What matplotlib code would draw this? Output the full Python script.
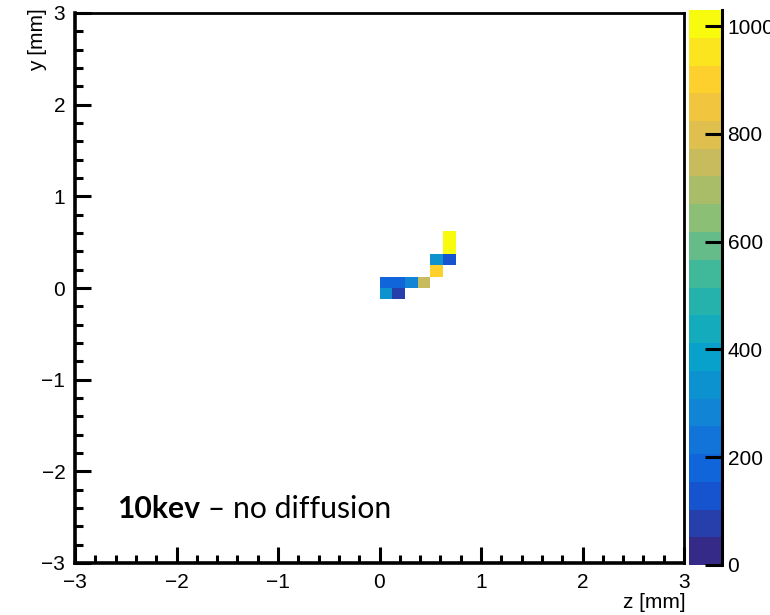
import numpy as np
import matplotlib
matplotlib.use("Agg")
import matplotlib.pyplot as plt
from matplotlib.colors import LinearSegmentedColormap, BoundaryNorm
from matplotlib.ticker import MultipleLocator

# ---- data (bin centres in mm, deposited charge) ----
z_centers = [0.0625, 0.1875, 0.0625, 0.1875, 0.3125, 0.4375, 0.5625, 0.5625, 0.6875, 0.6875, 0.6875]
y_centers = [-0.0625, -0.0625, 0.0625, 0.0625, 0.0625, 0.0625, 0.1875, 0.3125, 0.3125, 0.4375, 0.5625]
charge = [335, 75, 175, 185, 285, 760, 905, 330, 130, 1010, 1030]
x_ticks = [-3, -2, -1, 0, 1, 2, 3]
y_ticks = [-3, -2, -1, 0, 1, 2, 3]
cbar_ticks = [0, 200, 400, 600, 800, 1000]

plt.rcParams['font.family'] = ['Liberation Sans', 'DejaVu Sans']

# ROOT kBird palette
stops = [0.0, 0.125, 0.25, 0.375, 0.5, 0.625, 0.75, 0.875, 1.0]
red = [0.2082, 0.0592, 0.0780, 0.0232, 0.1802, 0.5301, 0.8186, 0.9956, 0.9764]
green = [0.1664, 0.3599, 0.5041, 0.6419, 0.7178, 0.7492, 0.7328, 0.7862, 0.9832]
blue = [0.5293, 0.8684, 0.8385, 0.7914, 0.6425, 0.4662, 0.3499, 0.1968, 0.0539]
cmap = LinearSegmentedColormap.from_list(
    'bird', [(s, (r, g, b)) for s, r, g, b in zip(stops, red, green, blue)], N=256)

edges = np.linspace(-3, 3, 49)
H, _, _ = np.histogram2d(z_centers, y_centers, bins=[edges, edges], weights=charge)
H = np.ma.masked_equal(H.T, 0)
vmax = max(charge)
levels = np.linspace(0, vmax, 21)
norm = BoundaryNorm(levels, ncolors=cmap.N)

fig = plt.figure(figsize=(7.7, 6.15), dpi=100)
ax = fig.add_axes([75/770, 52/615, 609/770, 550/615])
mesh = ax.pcolormesh(edges, edges, H, cmap=cmap, norm=norm)
ax.set_xlim(-3, 3)
ax.set_ylim(-3, 3)
ax.set_xticks(x_ticks)
ax.set_yticks(y_ticks)
ax.xaxis.set_minor_locator(MultipleLocator(0.2))
ax.yaxis.set_minor_locator(MultipleLocator(0.2))
ax.tick_params(which='both', direction='in', top=False, right=False, width=2.2,
               labelsize=15, pad=7)
ax.tick_params(which='major', length=11.5)
ax.tick_params(which='minor', length=6)
for s in ax.spines.values():
    s.set_linewidth(2.0)
ax.spines['left'].set_linewidth(2.6)
ax.spines['bottom'].set_linewidth(2.6)

fig.text(686/770, 1 - 603/615, 'z [mm]', ha='right', va='center', fontsize=15)
fig.text(38/770, 1 - 8/615, 'y [mm]', ha='center', va='top', rotation=90, fontsize=15)

t1 = ax.text(0.069, 0.082, '10kev', transform=ax.transAxes, fontsize=21.7,
             fontweight='bold', family=['Lato', 'DejaVu Sans'], va='baseline')
ax.annotate(' \u2013 no diffusion', xy=(1, 0), xycoords=t1, va='bottom',
            fontsize=21.7, family=['Lato', 'DejaVu Sans'])

cax = fig.add_axes([689/770, 50/615, 33/770, 555/615])
cb = fig.colorbar(mesh, cax=cax, ticks=cbar_ticks)
cb.outline.set_visible(False)
cax.plot([1, 1], [0, 1], transform=cax.transAxes, color='black', lw=2.2, clip_on=False)
cax.tick_params(direction='in', length=12, width=2.2, labelsize=15, pad=4)
cax.minorticks_off()

fig.savefig('out.png', dpi=100)
